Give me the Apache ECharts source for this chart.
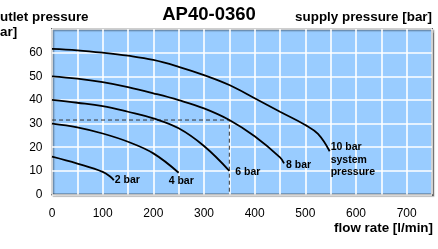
<!DOCTYPE html>
<html>
<head>
<meta charset="utf-8">
<script src="https://cdn.jsdelivr.net/npm/echarts@6/dist/echarts.min.js"></script>
<style>
  html, body { margin: 0; padding: 0; background: #fff; }
  #chart { width: 438px; height: 249px; }
</style>
</head>
<body>
<div id="chart"></div>
<script>
// flow rate [l/min] vs outlet pressure [bar], one curve per supply pressure
const flow2 = [0, 50, 100, 117, 122]
const press2 = [16, 13.1, 9.6, 7.2, 6]

const flow4 = [0, 50, 100, 150, 200, 250]
const press4 = [30, 28.4, 25.8, 22.3, 17.4, 9.2]

const flow6 = [0, 50, 100, 150, 200, 250, 300, 350]
const press6 = [40, 38.8, 37.4, 35, 32.2, 28, 20.5, 10]

const flow8 = [0, 50, 100, 150, 200, 250, 300, 350, 400, 450, 458]
const press8 = [50, 49, 47.5, 45.4, 42.8, 39.9, 36.4, 31.5, 24.6, 15.7, 13.2]

const flow10 = [0, 50, 100, 150, 200, 250, 300, 350, 400, 450, 500, 525, 548]
const press10 = [61.6, 61, 60, 58.7, 56.9, 54, 50.5, 46.3, 40.7, 35, 29.4, 25.6, 18.3]

// dashed reading line
const refFlow = [0, 350, 350]
const refPress = [31.5, 31.5, 0]

const curveLabels = ['2 bar', '4 bar', '6 bar', '8 bar', '10 bar\nsystem\npressure']

const FONT = 'Liberation Sans, Arial, Helvetica, sans-serif'
const zip = (xs, ys) => xs.map((x, i) => [x, ys[i]])

const curves = [
  { data: zip(flow2, press2), offset: [0, 0], distance: 1 },
  { data: zip(flow4, press4), offset: [-11, 8], distance: 1 },
  { data: zip(flow6, press6), offset: [0, 1], distance: 6 },
  { data: zip(flow8, press8), offset: [0, 2], distance: 2 },
  { data: zip(flow10, press10), offset: [0, 8.5], distance: 1 }
]

const chart = echarts.init(document.getElementById('chart'), null, { renderer: 'canvas' })

chart.setOption({
  animation: false,
  grid: {
    left: 52, right: 6, top: 29, bottom: 54.5,
    show: true,
    backgroundColor: '#99ccff',
    borderColor: '#000',
    borderWidth: 1.6,
    shadowColor: 'rgba(0,0,0,0.35)',
    shadowBlur: 1,
    shadowOffsetX: 1.5,
    shadowOffsetY: 1.5
  },
  xAxis: {
    type: 'value',
    min: 0, max: 750, interval: 50,
    axisLine: { show: false },
    axisTick: { show: false },
    splitLine: { lineStyle: { color: '#fff', width: 1.6 } },
    axisLabel: {
      margin: 13,
      color: '#000',
      fontFamily: FONT,
      fontSize: 12,
      formatter: (v) => (v % 100 === 0 ? String(v) : '')
    }
  },
  yAxis: {
    type: 'value',
    min: 0, max: 70, interval: 10,
    axisLine: { show: false },
    axisTick: { show: false },
    splitLine: { lineStyle: { color: '#fff', width: 1.6 } },
    axisLabel: {
      margin: 9.5,
      color: '#000',
      fontFamily: FONT,
      fontSize: 12,
      formatter: (v) => (v === 70 ? '' : String(v))
    }
  },
  graphic: [
    { type: 'text', x: 209, y: 14.5, style: { text: 'AP40-0360', font: 'bold 18.5px ' + FONT, textAlign: 'center', textVerticalAlign: 'middle', fill: '#000' } },
    { type: 'text', x: 0, y: 17.5, style: { text: 'utlet pressure', font: 'bold 13.4px ' + FONT, textAlign: 'left', textVerticalAlign: 'middle', fill: '#000' } },
    { type: 'text', x: 0, y: 32.5, style: { text: 'ar]', font: 'bold 13.4px ' + FONT, textAlign: 'left', textVerticalAlign: 'middle', fill: '#000' } },
    { type: 'text', x: 432, y: 17.8, style: { text: 'supply pressure [bar]', font: 'bold 13.4px ' + FONT, textAlign: 'right', textVerticalAlign: 'middle', fill: '#000' } },
    { type: 'text', x: 433, y: 228.5, style: { text: 'flow rate [l/min]', font: 'bold 13.4px ' + FONT, textAlign: 'right', textVerticalAlign: 'middle', fill: '#000' } }
  ],
  series: [
    {
      type: 'line',
      data: zip(refFlow, refPress),
      symbol: 'none',
      silent: true,
      lineStyle: { color: '#333', width: 1, type: [4, 3] },
      z: 3
    },
    ...curves.map((c, i) => ({
      type: 'line',
      data: c.data,
      smooth: 0.4,
      symbol: 'none',
      lineStyle: { color: '#000', width: 1.8 },
      z: 4,
      endLabel: {
        show: true,
        formatter: curveLabels[i],
        distance: c.distance,
        offset: c.offset,
        color: '#000',
        fontFamily: FONT,
        fontWeight: 'bold',
        fontSize: 10.5,
        lineHeight: 12.5,
        align: 'left'
      }
    }))
  ]
})
</script>
</body>
</html>
